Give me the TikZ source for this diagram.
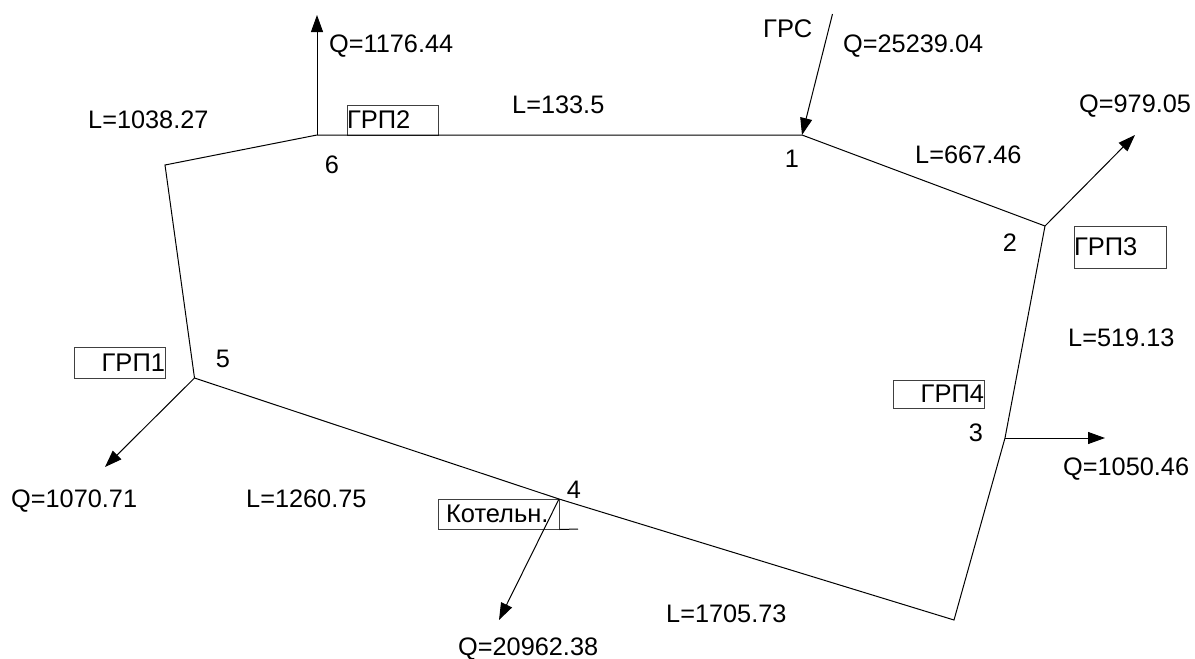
\documentclass[tikz,border=0pt]{standalone}
\usepackage{fontspec}
\setmainfont{Liberation Sans}
\usetikzlibrary{arrows.meta}
\tikzset{
  pipe/.style={draw=black,line width=1pt},
  flow/.style={pipe,-{Triangle[length=17pt,width=12pt]}},
  lbl/.style={inner sep=0pt,font=\fontsize{25.3}{25.3}\selectfont,text=black,anchor=base west},
  num/.style={inner sep=0pt,font=\fontsize{25.3}{25.3}\selectfont,text=black,anchor=base},
  box/.style={draw=black!75,line width=1pt,inner sep=0pt,font=\fontsize{25.5}{25.5}\selectfont,text depth=0pt}
}
\begin{document}
\begin{tikzpicture}[x=1pt,y=-1pt]
\useasboundingbox (0,0) rectangle (1195,659);
\fill[white] (0,0) rectangle (1195,659);
% vertices
\coordinate (v1) at (802,135);
\coordinate (v2) at (1045,226);
\coordinate (v3) at (1005,438);
\coordinate (c34) at (954,620);
\coordinate (v4) at (559,499);
\coordinate (v5) at (194.5,378);
\coordinate (c56) at (165,165);
\coordinate (v6) at (317,135);
% flow ends
\coordinate (q6) at (317,15);
\coordinate (grs) at (832.5,14);
\coordinate (q2) at (1135,135);
\coordinate (q3) at (1105,438);
\coordinate (q4) at (499,620);
\coordinate (q5) at (105,467);
\coordinate (kend) at (578,529);
% boxes
\node[box,minimum width=91pt,minimum height=30pt,text width=91pt,align=left] (b2) at (392.5,120) {ГРП2};
\node[box,minimum width=92pt,minimum height=42pt,text width=92pt,align=left] (b3) at (1120,247) {ГРП3};
\node[box,minimum width=91pt,minimum height=28pt,text width=91pt,align=right] (b4) at (938.5,394) {ГРП4};
\node[box,minimum width=91pt,minimum height=31pt,text width=91pt,align=right] (b1) at (119.5,362.5) {ГРП1};
\node[box,minimum width=121pt,minimum height=30pt,text width=121pt,align=left] (bk) at (498.5,514) {\hspace{8pt}Котельн.};
\draw[pipe] (bk.south east) -- (kend);
% network
\draw[pipe] (v6) -- (v1) -- (v2) -- (v3) -- (c34) -- (v4) -- (v5) -- (c56) -- (v6);
% flows
\draw[flow] (v6) -- (q6);
\draw[flow] (grs) -- (v1);
\draw[flow] (v2) -- (q2);
\draw[flow] (v3) -- (q3);
\draw[flow] (v4) -- (q4);
\draw[flow] (v5) -- (q5);
% labels
\node[num] (n1) at (792,167) {1};
\node[num] (n2) at (1010,251) {2};
\node[num] (n3) at (976,441) {3};
\node[num] (n4) at (574,498) {4};
\node[num] (n5) at (223,367) {5};
\node[num] (n6) at (332,173) {6};
\node[lbl,font=\fontsize{25.5}{25.5}\selectfont] (grst) at (763,37) {ГРС};
\node[lbl] (t1) at (329,52) {Q=1176.44};
\node[lbl] (t2) at (843,52) {Q=25239.04};
\node[lbl] (t3) at (1079,112) {Q=979.05};
\node[lbl] (t4) at (1063,475) {Q=1050.46};
\node[lbl] (t5) at (11,507) {Q=1070.71};
\node[lbl] (t6) at (458,655.5) {Q=20962.38};
\node[lbl] (l1) at (512,113) {L=133.5};
\node[lbl] (l2) at (915,163) {L=667.46};
\node[lbl] (l3) at (1068,346) {L=519.13};
\node[lbl] (l4) at (666,622) {L=1705.73};
\node[lbl] (l5) at (246,507) {L=1260.75};
\node[lbl] (l6) at (88,128) {L=1038.27};
\end{tikzpicture}
\end{document}
